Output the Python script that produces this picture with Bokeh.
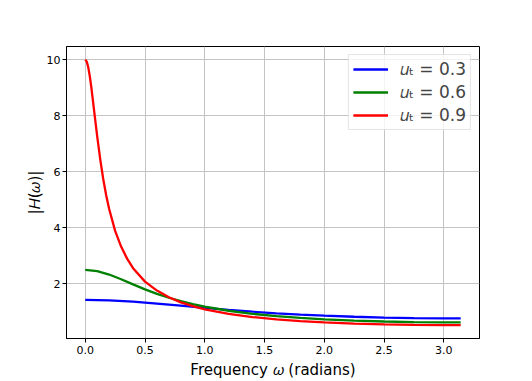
from bokeh.plotting import figure
from bokeh.models import Range1d, FixedTicker, Legend, LegendItem, NumeralTickFormatter
from bokeh.embed import file_html
from bokeh.resources import INLINE

# Values
omega_03 = [0.0, 0.2, 0.4, 0.6, 0.8, 1.0, 1.2, 1.4, 1.6, 1.8, 2.0, 2.25, 2.5, 2.75, 3.0, 3.1416]
h_03 = [1.429, 1.411, 1.364, 1.297, 1.220, 1.143, 1.071, 1.006, 0.950, 0.903, 0.864, 0.826,
        0.798, 0.780, 0.771, 0.769]

omega_06 = [0.0, 0.1, 0.2, 0.3, 0.4, 0.5, 0.6, 0.7, 0.8, 0.9, 1.0, 1.2, 1.4, 1.6, 1.8, 2.0,
            2.25, 2.5, 2.75, 3.0, 3.1416]
h_06 = [2.500, 2.454, 2.332, 2.164, 1.981, 1.805, 1.645, 1.504, 1.382, 1.276, 1.185, 1.040,
        0.930, 0.847, 0.783, 0.733, 0.688, 0.656, 0.636, 0.626, 0.625]

omega_09 = [0.0, 0.0125, 0.025, 0.0375, 0.05, 0.0625, 0.075, 0.0875, 0.1, 0.125, 0.15, 0.175,
            0.2, 0.25, 0.3, 0.35, 0.4, 0.5, 0.6, 0.7, 0.8, 0.9, 1.0, 1.2, 1.4, 1.6, 1.8, 2.0,
            2.25, 2.5, 2.75, 3.0, 3.1416]
h_09 = [10.0, 9.93, 9.73, 9.42, 9.04, 8.60, 8.15, 7.70, 7.26, 6.45, 5.75, 5.16,
        4.67, 3.89, 3.33, 2.90, 2.56, 2.08, 1.76, 1.52, 1.34, 1.203, 1.093, 0.929, 0.815, 0.733,
        0.671, 0.625, 0.583, 0.555, 0.537, 0.528, 0.526]

labels = ["𝑢ₜ = 0.3", "𝑢ₜ = 0.6", "𝑢ₜ = 0.9"]
colors = ["#0000ff", "#008000", "#ff0000"]
x_ticks = [0.0, 0.5, 1.0, 1.5, 2.0, 2.5, 3.0]
y_ticks = [2, 4, 6, 8, 10]

FONT = "DejaVu Sans"

p = figure(width=532, height=381, output_backend="svg", toolbar_location=None,
           x_range=Range1d(-0.157, 3.299), y_range=Range1d(0.05, 10.47),
           min_border_left=66, min_border_right=53, min_border_top=46, min_border_bottom=42)
p.background_fill_color = "white"
p.border_fill_color = "white"
p.outline_line_color = "black"
p.outline_line_width = 1

renderers = []
for xs, ys, c in zip([omega_03, omega_06, omega_09], [h_03, h_06, h_09], colors):
    r = p.line(xs, ys, line_color=c, line_width=2.3)
    renderers.append(r)

p.xaxis.ticker = FixedTicker(ticks=x_ticks)
p.yaxis.ticker = FixedTicker(ticks=y_ticks)
p.xaxis.formatter = NumeralTickFormatter(format="0.0")
for ax in (p.xaxis, p.yaxis):
    ax.major_tick_in = 0
    ax.major_tick_out = 4
    ax.minor_tick_line_color = None
    ax.major_label_text_font = FONT
    ax.major_label_text_font_size = "11px"
    ax.major_label_text_color = "black"
    ax.axis_label_text_font = FONT
    ax.axis_label_text_font_size = "15px"
    ax.axis_label_text_font_style = "normal"
    ax.axis_label_text_color = "black"
    ax.axis_line_color = "black"
    ax.major_tick_line_color = "black"
p.xaxis.major_label_standoff = 3
p.xaxis.axis_label_standoff = 4
p.yaxis.major_label_standoff = 2
p.yaxis.axis_label_standoff = 0

p.xaxis.axis_label = "Frequency 𝜔 (radians)"
p.yaxis.axis_label = "|𝐻(𝜔)|"

p.xgrid.ticker = FixedTicker(ticks=x_ticks)
p.ygrid.ticker = FixedTicker(ticks=y_ticks)
p.grid.grid_line_color = "#c4c4c4"
p.grid.grid_line_width = 1

legend = Legend(items=[LegendItem(label=l, renderers=[r]) for l, r in zip(labels, renderers)],
                location="top_right")
legend.label_text_font = FONT
legend.label_text_font_size = "17px"
legend.glyph_width = 35
legend.glyph_height = 20
legend.label_height = 20
legend.label_standoff = 12
legend.spacing = 3
legend.padding = 4
legend.margin = 8
legend.border_line_color = "#cccccc"
legend.border_line_width = 1
legend.background_fill_alpha = 0.8
p.add_layout(legend)

open("out.html", "w").write(file_html(p, INLINE))
